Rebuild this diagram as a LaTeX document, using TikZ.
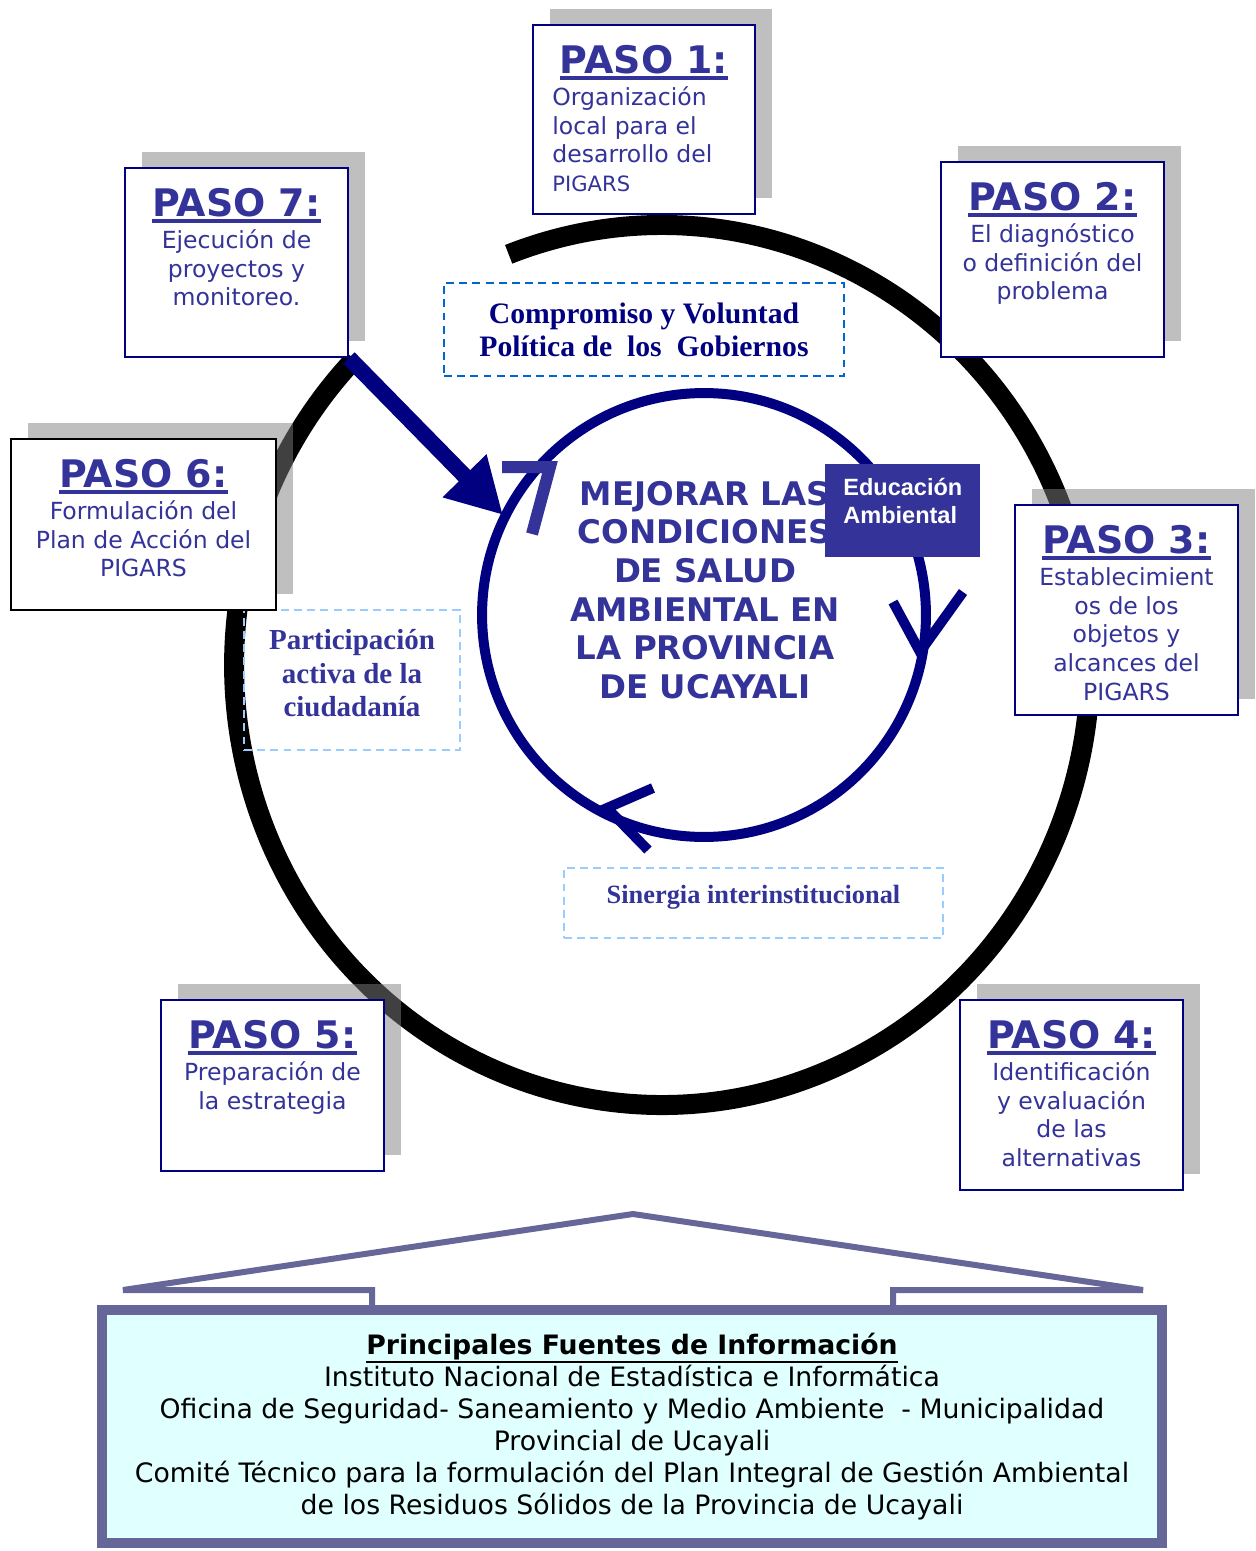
\documentclass[tikz,border=0pt]{standalone}
\usepackage{fontspec}
\setmainfont{DejaVu Sans}
\newfontfamily\timesfont{Liberation Serif}
\newfontfamily\arialfont{Liberation Sans}
\usetikzlibrary{arrows.meta, positioning, calc, shadows, backgrounds}
\definecolor{cPaso}{RGB}{51, 51, 153}
\definecolor{cNavy}{RGB}{0, 0, 128}
\definecolor{cRoof}{RGB}{102, 102, 153}
\definecolor{cFuenteFill}{RGB}{224, 255, 255}
\definecolor{cDashDark}{RGB}{0, 102, 204}
\definecolor{cDashLight}{RGB}{153, 204, 255}
\newcommand{\ulbar}[2]{\vtop{\hbox{#2}\kern1pt\hrule height #1}}
\tikzset{
    % --- cajas de pasos ---
    stepBox/.style={
        rectangle, draw=cNavy, line width=1.1pt, fill=white,
        minimum width=4.46cm, inner sep=0pt,
        drop shadow={shadow xshift=0.34cm, shadow yshift=0.32cm}
    },
    stepTitle/.style={
        font=\fontsize{21.6}{24}\selectfont\bfseries, text=cPaso,
        inner sep=0pt, text height=15.8pt, text depth=3pt
    },
    stepText/.style={
        font=\fontsize{13.4}{16.4}\selectfont, text=cPaso,
        align=center, inner sep=0pt
    },
    % --- cajas punteadas ---
    dashBox/.style={
        rectangle, line width=1.2pt, dash pattern=on 4.5pt off 3pt,
        align=center, inner sep=0pt,
        font=\timesfont\bfseries\fontsize{16.9}{18.7}\selectfont
    },
    eduBox/.style={
        rectangle, fill=cPaso, text=white, align=left,
        font=\arialfont\bfseries\fontsize{13.4}{15.9}\selectfont,
        minimum width=3.1cm, minimum height=1.86cm
    },
    fuenteBox/.style={
        rectangle, draw=cRoof, line width=0.2cm, fill=cFuenteFill,
        minimum width=21.2cm, minimum height=4.66cm, align=center,
        font=\fontsize{15.2}{18.3}\selectfont, text=black
    },
    % --- lineas ---
    ringLine/.style={draw=black, line width=0.4cm},
    bigArrow/.style={
        draw=cNavy, line width=0.32cm,
        -{Triangle[length=1.1cm, width=1.15cm]}
    },
    chevNavy/.style={draw=cNavy, line width=0.2cm, miter limit=4},
    chevLight/.style={draw=cPaso, line width=0.24cm, miter limit=4},
    roofLine/.style={draw=cRoof, line width=0.12cm, line join=miter}
}

\begin{document}
\begin{tikzpicture}[x=0.02cm, y=-0.02cm]
	\useasboundingbox (0,0) rectangle (1255,1551);

	% --- centro ---
	\coordinate (ringc) at (662,665);
	\node[circle, draw=cNavy, line width=0.2cm, minimum size=8.88cm, inner sep=0pt] (meta) at (704,615) {};
	\node[font=\fontsize{18.5}{22}\selectfont\bfseries, text=cPaso, align=center, inner sep=0pt] (metaText) at (705,590)
		{MEJORAR LAS\\CONDICIONES\\DE SALUD\\AMBIENTAL EN\\LA PROVINCIA\\DE UCAYALI};
	\node[eduBox, anchor=north west] (edu) at (825,464) {Educación\\Ambiental\rule[-11pt]{0pt}{11pt}};
	\coordinate (tip7) at (503,515);

	% --- flechas del circulo ---
	\draw[chevLight] (502,467) -- (550,467) -- (532,534);
	\draw[chevNavy] (893,602) -- (920,652) -- (963,592);
	\draw[chevNavy] (653,788) -- (607,808) -- (648,850);

	% --- cajas punteadas ---
	\node[dashBox, draw=cDashDark, text=cNavy, minimum width=8cm, minimum height=1.86cm] (compromiso) at (644,329.5)
		{Compromiso y Voluntad\\Política de\ \ los\ \ Gobiernos};
	\node[dashBox, draw=cDashLight, text=cPaso, minimum width=4.32cm, minimum height=2.8cm,
		font=\timesfont\bfseries\fontsize{16.5}{19.3}\selectfont] (participa) at (352,680)
		{Participación\\activa de la\\ciudadanía\rule[-8pt]{0pt}{8pt}};
	\node[dashBox, draw=cDashLight, text=cPaso, minimum width=7.58cm, minimum height=1.4cm,
		font=\timesfont\bfseries\fontsize{15}{18}\selectfont] (sinergia) at (753.5,903)
		{Sinergia interinstitucional\rule[-10pt]{0pt}{10pt}};

	% --- Paso 1 ---
	\node[stepBox, minimum width=4.44cm, minimum height=3.78cm] (paso1) at (644,119.5) {};
	\node[stepTitle, below=0.43cm of paso1.north] (t1) {\ulbar{2.2pt}{PASO 1:}};
	\node[stepText, align=left, anchor=north west] (b1) at ($(paso1.west |- t1.south)+(0.4cm,-3.6pt)$)
		{\rule{0pt}{11pt}Organización\\local para el\\desarrollo del\\{\fontsize{12}{16.4}\selectfont PIGARS}};

	% --- Paso 2 ---
	\node[stepBox, minimum height=3.9cm] (paso2) at (1052.5,259.5) {};
	\node[stepTitle, below=0.43cm of paso2.north] (t2) {\ulbar{2.2pt}{PASO 2:}};
	\node[stepText, below=3.6pt of t2] (b2) {\rule{0pt}{11pt}El diagnóstico\\o definición del\\problema};

	% --- Paso 3 ---
	\node[stepBox, minimum height=4.2cm] (paso3) at (1126.5,610) {};
	\node[stepTitle, below=0.43cm of paso3.north] (t3) {\ulbar{2.2pt}{PASO 3:}};
	\node[stepText, below=3.6pt of t3] (b3) {\rule{0pt}{11pt}Establecimient\\os de los\\objetos y\\alcances del\\PIGARS};

	% --- Paso 4 ---
	\node[stepBox, minimum height=3.8cm] (paso4) at (1071.5,1095) {};
	\node[stepTitle, below=0.43cm of paso4.north] (t4) {\ulbar{2.2pt}{PASO 4:}};
	\node[stepText, below=3.6pt of t4] (b4) {\rule{0pt}{11pt}Identificación\\y evaluación\\de las\\alternativas};

	% --- Paso 5 ---
	\node[stepBox, minimum height=3.42cm] (paso5) at (272.5,1085.5) {};
	\node[stepTitle, below=0.43cm of paso5.north] (t5) {\ulbar{2.2pt}{PASO 5:}};
	\node[stepText, below=3.6pt of t5] (b5) {\rule{0pt}{11pt}Preparación de\\la estrategia};

	% --- Paso 6 ---
	\node[stepBox, draw=black, minimum width=5.3cm, minimum height=3.42cm] (paso6) at (143.5,524.5) {};
	\node[stepTitle, below=0.43cm of paso6.north] (t6) {\ulbar{2.2pt}{PASO 6:}};
	\node[stepText, below=3.6pt of t6] (b6) {\rule{0pt}{11pt}Formulación del\\Plan de Acción del\\PIGARS};

	% --- Paso 7 ---
	\node[stepBox, minimum height=3.78cm] (paso7) at (236.5,262.5) {};
	\node[stepTitle, below=0.43cm of paso7.north] (t7) {\ulbar{2.2pt}{PASO 7:}};
	\node[stepText, below=3.6pt of t7] (b7) {\rule{0pt}{11pt}Ejecución de\\proyectos y\\monitoreo.};

	% --- fuentes de informacion ---
	\node[fuenteBox] (fuentes) at (632,1426.5)
		{\ulbar{1.2pt}{\bfseries Principales Fuentes de Información}\\
		Instituto Nacional de Estadística e Informática\\
		Oficina de Seguridad- Saneamiento y Medio Ambiente\ \ - Municipalidad\\
		Provincial de Ucayali\\
		Comité Técnico para la formulación del Plan Integral de Gestión Ambiental\\
		de los Residuos Sólidos de la Provincia de Ucayali};
	\coordinate (roofL) at (123,1290);
	\coordinate (roofTop) at (633,1214);
	\coordinate (roofR) at (1143,1290);
	\draw[roofLine] (372,1310) -- (372,1290) -- (roofL) -- (roofTop) -- (roofR) -- (893,1290) -- (893,1310);

	% --- anillo y flecha (fondo) ---
	\begin{scope}[on background layer]
		\draw[ringLine] ($(ringc)+(111:8.56cm and 8.8cm)$) arc[start angle=111, end angle=-224, x radius=8.56cm, y radius=8.8cm];
		\draw[bigArrow] (paso7.south east) -- (tip7);
	\end{scope}

\end{tikzpicture}
\end{document}
